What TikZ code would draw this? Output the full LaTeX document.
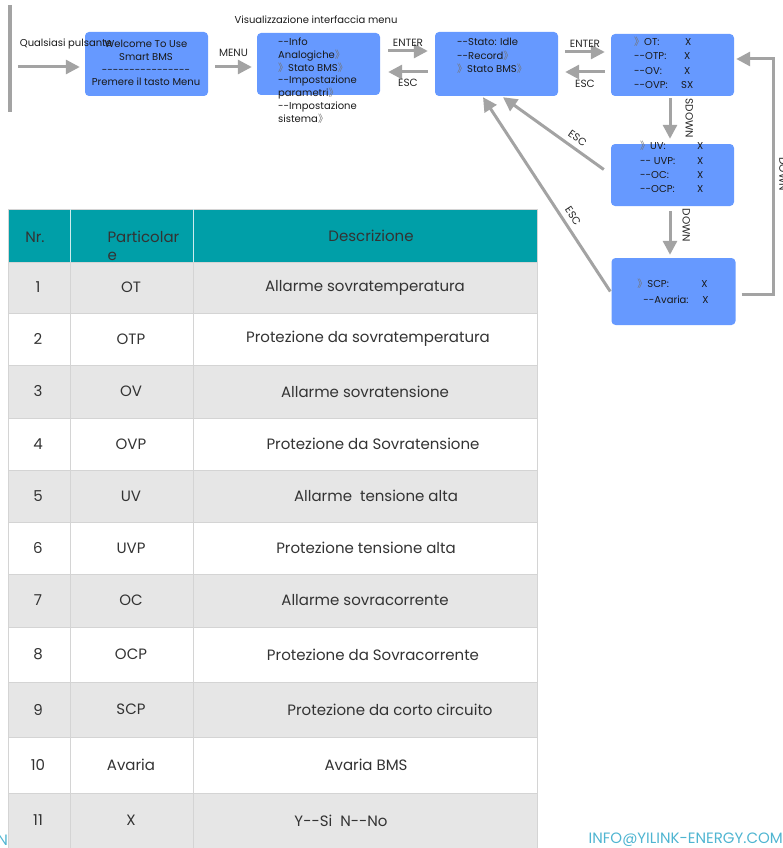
\documentclass[tikz,border=0pt]{standalone}
\usepackage{fontspec}
\setmainfont{Poppins}[Ligatures=TeXOff]
\newfontfamily\cjk{Noto Sans CJK SC}
\usetikzlibrary{arrows.meta,positioning,calc}
\definecolor{menublue}{HTML}{6699FF}
\definecolor{headteal}{HTML}{009FA8}
\definecolor{rowgray}{HTML}{E6E6E6}
\definecolor{gridgray}{HTML}{D4D4D4}
\definecolor{arrgray}{HTML}{A3A3A3}
\definecolor{webblue}{HTML}{4FB5D1}
\newcommand{\dbr}{{\cjk\color{black!55}》}}
\tikzset{
  screen/.style={fill=menublue, rounded corners=4pt, inner sep=0pt},
  flow/.style={draw=arrgray, line width=3pt, -{Triangle[length=14pt,width=14pt]}},
  keylbl/.style={font=\fontsize{10.5}{12}\selectfont, text=black!85, inner sep=1pt},
  downlbl/.style={keylbl, rotate=-90, anchor=south},
  scrtxt/.style={font=\fontsize{10}{12.7}\selectfont, align=left, inner sep=0pt, text=black!90},
  cell/.style={font=\fontsize{15}{18}\selectfont, text=black!80},
}
\begin{document}
\begin{tikzpicture}[x=1pt,y=-1pt]
  \useasboundingbox (0,0) rectangle (783,848);
  % screens
  \draw[arrgray, line width=4pt] (10,5) -- (10,112);
  \node[screen, minimum width=123pt, minimum height=64pt] (welcome) at (146.5,64) {};
  \node[screen, minimum width=123pt, minimum height=62pt] (menu) at (318.5,64) {};
  \node[screen, minimum width=123pt, minimum height=64pt] (stato) at (496.5,64) {};
  \node[screen, minimum width=123pt, minimum height=62pt] (ot) at (672.5,65) {};
  \node[screen, minimum width=123pt, minimum height=62pt] (uv) at (672.5,175) {};
  \node[screen, minimum width=124pt, minimum height=67pt] (scp) at (673.5,291.5) {};

  \node[scrtxt] (anytxt) at (66,44) {Qualsiasi pulsante};
  \node[scrtxt, align=center] (welcometxt) at (146,63) {Welcome To Use\\Smart BMS\\----------------\\Premere il tasto Menu};
  \node[scrtxt] (vistxt) at (316,20) {Visualizzazione interfaccia menu};
  \node[scrtxt, anchor=north west] (menutxt) at (278,38) {--Info\\Analogiche\dbr\\\dbr Stato BMS\dbr\\--Impostazione\\parametri\dbr\\--Impostazione\\sistema\dbr};
  \node[scrtxt, anchor=north west, font=\fontsize{10}{13.5}\selectfont] (statotxt) at (457,38) {--Stato: Idle\\--Record\dbr\\\dbr Stato BMS\dbr};
  \node[scrtxt, anchor=north west, font=\fontsize{10}{14.2}\selectfont] (ottxt) at (634,37) {\makebox[51pt][l]{\dbr OT:}X\\\makebox[50pt][l]{--OTP:}X\\\makebox[50pt][l]{--OV:}X\\\makebox[47pt][l]{--OVP:}SX};
  \node[scrtxt, anchor=north west, font=\fontsize{10}{14.4}\selectfont] (uvtxt) at (640,141) {\makebox[57pt][l]{\dbr UV:}X\\\makebox[57pt][l]{-- UVP:}X\\\makebox[57pt][l]{--OC:}X\\\makebox[57pt][l]{--OCP:}X};
  \node[scrtxt, font=\fontsize{10}{16}\selectfont] (scptxt) at (673,291) {\makebox[64pt][l]{\dbr SCP:}X\\\hspace*{6pt}\makebox[59pt][l]{--Avaria:}X};

  % connectors
  \coordinate (anykey) at (18,67);
  \draw[flow] (anykey) -- ([xshift=-5pt,yshift=-3pt]welcome.west);
  \draw[flow] ([xshift=7pt,yshift=-3pt]welcome.east) -- ([xshift=-5pt,yshift=-3pt]menu.west) node[keylbl, midway, above=8pt] {MENU};
  \draw[flow] ([xshift=8pt,yshift=13pt]menu.east) -- ([xshift=-7pt,yshift=13pt]stato.west) node[keylbl, midway, above=2pt] {ENTER};
  \draw[flow] ([xshift=-7pt,yshift=-8pt]stato.west) -- ([xshift=8pt,yshift=-8pt]menu.east) node[keylbl, midway, below=5pt] {ESC};
  \draw[flow] ([xshift=7pt,yshift=12pt]stato.east) -- ([xshift=-6pt,yshift=13pt]ot.west) node[keylbl, midway, above=2pt] {ENTER};
  \draw[flow] ([xshift=-6pt,yshift=-7pt]ot.west) -- ([xshift=7pt,yshift=-8pt]stato.east) node[keylbl, midway, below=6pt] {ESC};
  \draw[flow] ([xshift=-2.5pt,yshift=-2pt]ot.south) -- ([xshift=-2.5pt,yshift=5pt]uv.north) node[downlbl, midway, inner ysep=14pt] {SDOWN};
  \draw[flow] ([xshift=-2.5pt,yshift=-5pt]uv.south) -- ([xshift=-3.5pt,yshift=3pt]scp.north) node[downlbl, pos=0.33, inner ysep=11pt] {DOWN};
  \draw[flow] ([xshift=6pt,yshift=-2.5pt]scp.east) -- ++(32,0) |- ([xshift=2pt,yshift=6pt]ot.east) node[downlbl, pos=0.255, inner ysep=4pt] {DOWN};
  \draw[flow] ([xshift=-7pt,yshift=5.5pt]uv.west) -- ([xshift=6.5pt,yshift=-1pt]stato.south) node[keylbl, pos=0.32, sloped, above=4pt] {ESC};
  \draw[flow] ([xshift=-1pt]scp.west) -- ([xshift=-13.5pt,yshift=-1pt]stato.south) node[keylbl, pos=0.36, sloped, above=4pt] {ESC};

  % table
  \fill[headteal] (8,209) rectangle (537,262);
  \foreach \i/\ya/\yb/\code/\desc/\dx/\shade in {
      1/262/313/OT/Allarme sovratemperatura/365/rowgray,
      2/313/365/OTP/Protezione da sovratemperatura/368/white,
      3/365/418/OV/Allarme sovratensione/365/rowgray,
      4/418/470/OVP/Protezione da Sovratensione/373/white,
      5/470/522/UV/Allarme\ \ tensione alta/376/rowgray,
      6/522/574/UVP/Protezione tensione alta/366/white,
      7/574/627/OC/Allarme sovracorrente/365/rowgray,
      8/627/682/OCP/Protezione da Sovracorrente/373/white,
      9/682/737/SCP/Protezione da corto circuito/390/rowgray,
      10/737/793/Avaria/Avaria BMS/366/white,
      11/793/848/X/Y--Si\ \ N--No/341/rowgray}{
    \fill[\shade] (8,\ya) rectangle (537,\yb);
    \node[cell] (nr\i) at (38,{(\ya+\yb)/2}) {\i};
    \node[cell] (part\i) at (131,{(\ya+\yb)/2}) {\code};
    \node[cell] (desc\i) at (\dx,{(\ya+\yb)/2}) {\desc};
  }
  \foreach \y in {209,262,313,365,418,470,522,574,627,682,737,793,848}{
    \draw[gridgray] (8,\y) -- (537,\y);
  }
  \foreach \x in {8,70,193,537}{
    \draw[gridgray] (\x,262) -- (\x,848);
  }
  \draw[white!80!headteal] (70,209) -- (70,262) (193,209) -- (193,262);
  \draw[gridgray] (8,209) -- (8,262) (537,209) -- (537,262);
  \node[cell] (nrhead) at (35,237) {Nr.};
  \node[cell, anchor=west, align=left, font=\fontsize{15}{18}\selectfont] (parthead) at (104,246) {Particolar\\e};
  \node[cell] (deschead) at (371,236) {Descrizione};

  % footer
  \node[anchor=east, text=webblue, font=\fontsize{15}{17}\selectfont, inner sep=0pt] (webright) at (783,840) {INFO@YILINK-ENERGY.COM};
  \node[anchor=east, text=webblue, font=\fontsize{15}{17}\selectfont, inner sep=0pt] (webleft) at (8,840) {N};
\end{tikzpicture}
\end{document}
